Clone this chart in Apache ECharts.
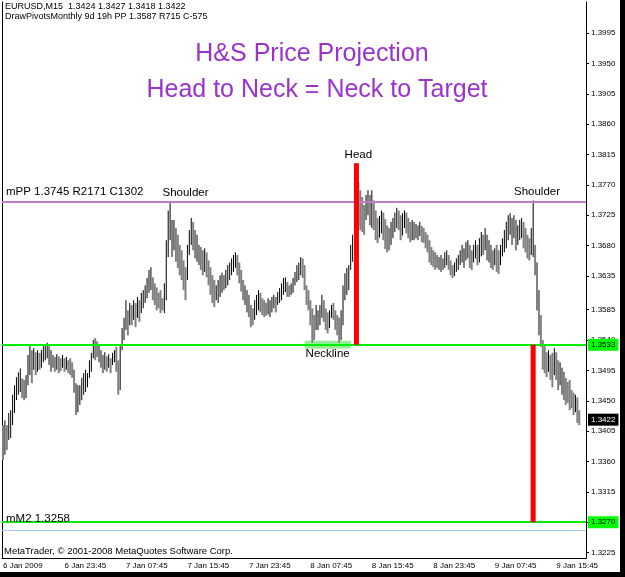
<!DOCTYPE html>
<html><head><meta charset="utf-8">
<script src="https://cdn.jsdelivr.net/npm/echarts@6/dist/echarts.min.js"></script>
<style>html,body{margin:0;padding:0;background:#fff}#c{width:625px;height:577px}</style>
</head><body><div id="c"></div>
<script>
// ---- data (EURUSD M15 bars, high / low) ----
const highs = [
1.3414,1.3421,1.3414,1.3432,1.3436,1.3459,1.3473,1.3485,1.3492,1.3498,
1.3483,1.3481,1.3488,1.3518,1.3533,1.3525,1.3528,1.3522,1.3525,1.3521,
1.3525,1.3531,1.3533,1.3536,1.3531,1.3525,1.3518,1.3515,1.3519,1.3516,
1.3513,1.3518,1.3513,1.3515,1.3510,1.3513,1.3507,1.3496,1.3476,1.3473,
1.3473,1.3484,1.3491,1.3496,1.3491,1.3510,1.3521,1.3540,1.3543,1.3538,
1.3533,1.3525,1.3518,1.3522,1.3516,1.3519,1.3513,1.3521,1.3525,1.3530,
1.3510,1.3533,1.3558,1.3573,1.3599,1.3584,1.3595,1.3592,1.3599,1.3595,
1.3604,1.3599,1.3610,1.3614,1.3621,1.3632,1.3644,1.3648,1.3633,1.3624,
1.3618,1.3610,1.3614,1.3602,1.3624,1.3688,1.3732,1.3744,1.3718,1.3718,
1.3706,1.3696,1.3681,1.3673,1.3658,1.3648,1.3681,1.3703,1.3721,1.3715,
1.3703,1.3696,1.3681,1.3678,1.3673,1.3676,1.3670,1.3658,1.3648,1.3636,
1.3629,1.3621,1.3629,1.3636,1.3640,1.3636,1.3644,1.3651,1.3655,1.3661,
1.3666,1.3670,1.3666,1.3655,1.3644,1.3629,1.3621,1.3614,1.3607,1.3592,
1.3587,1.3599,1.3607,1.3614,1.3610,1.3602,1.3599,1.3595,1.3602,1.3599,
1.3604,1.3607,1.3604,1.3611,1.3617,1.3624,1.3632,1.3633,1.3626,1.3621,
1.3624,1.3632,1.3641,1.3651,1.3655,1.3663,1.3661,1.3651,1.3621,1.3614,
1.3599,1.3587,1.3577,1.3592,1.3584,1.3592,1.3607,1.3599,1.3587,1.3581,
1.3584,1.3592,1.3595,1.3584,1.3577,1.3573,1.3584,1.3621,1.3639,1.3647,
1.3651,1.3681,1.3696,1.3777,1.3802,1.3773,1.3762,1.3752,1.3740,1.3755,
1.3762,1.3755,1.3762,1.3747,1.3732,1.3721,1.3724,1.3732,1.3729,1.3719,
1.3710,1.3706,1.3715,1.3721,1.3729,1.3736,1.3732,1.3725,1.3728,1.3732,
1.3729,1.3721,1.3715,1.3718,1.3715,1.3712,1.3710,1.3715,1.3709,1.3706,
1.3700,1.3696,1.3688,1.3678,1.3673,1.3670,1.3666,1.3663,1.3666,1.3661,
1.3670,1.3673,1.3666,1.3658,1.3651,1.3655,1.3661,1.3666,1.3673,1.3681,
1.3676,1.3685,1.3688,1.3681,1.3673,1.3681,1.3688,1.3681,1.3691,1.3700,
1.3696,1.3706,1.3696,1.3688,1.3681,1.3673,1.3676,1.3681,1.3673,1.3681,
1.3691,1.3703,1.3715,1.3725,1.3728,1.3721,1.3725,1.3718,1.3710,1.3718,
1.3721,1.3715,1.3706,1.3696,1.3691,1.3706,1.3747,1.3681,1.3655,1.3614,
1.3577,1.3540,1.3533,1.3522,1.3525,1.3518,1.3521,1.3528,1.3522,1.3510,
1.3507,1.3499,1.3493,1.3484,1.3478,1.3481,1.3466,1.3462,1.3459,1.3455,
1.3436];
const lows = [
1.3362,1.3370,1.3377,1.3392,1.3395,1.3414,1.3432,1.3451,1.3459,1.3463,
1.3454,1.3451,1.3454,1.3473,1.3488,1.3476,1.3496,1.3488,1.3493,1.3496,
1.3499,1.3507,1.3510,1.3513,1.3503,1.3493,1.3499,1.3493,1.3496,1.3491,
1.3494,1.3499,1.3493,1.3496,1.3491,1.3488,1.3484,1.3462,1.3429,1.3433,
1.3444,1.3451,1.3459,1.3463,1.3470,1.3484,1.3493,1.3513,1.3510,1.3515,
1.3507,1.3499,1.3491,1.3496,1.3493,1.3499,1.3491,1.3503,1.3507,1.3493,
1.3459,1.3466,1.3525,1.3540,1.3555,1.3547,1.3562,1.3562,1.3570,1.3559,
1.3573,1.3567,1.3580,1.3587,1.3595,1.3602,1.3610,1.3614,1.3599,1.3592,
1.3584,1.3587,1.3580,1.3584,1.3580,1.3599,1.3663,1.3688,1.3663,1.3673,
1.3656,1.3647,1.3636,1.3629,1.3614,1.3599,1.3629,1.3666,1.3681,1.3673,
1.3661,1.3656,1.3651,1.3644,1.3636,1.3641,1.3633,1.3621,1.3607,1.3595,
1.3589,1.3599,1.3595,1.3604,1.3610,1.3614,1.3617,1.3621,1.3629,1.3636,
1.3641,1.3647,1.3636,1.3624,1.3612,1.3599,1.3592,1.3581,1.3574,1.3559,
1.3562,1.3570,1.3577,1.3584,1.3581,1.3577,1.3574,1.3576,1.3578,1.3574,
1.3581,1.3587,1.3581,1.3592,1.3595,1.3599,1.3607,1.3611,1.3604,1.3604,
1.3607,1.3610,1.3621,1.3626,1.3629,1.3636,1.3632,1.3614,1.3592,1.3584,
1.3562,1.3536,1.3540,1.3555,1.3555,1.3562,1.3573,1.3567,1.3555,1.3550,
1.3558,1.3573,1.3570,1.3555,1.3547,1.3536,1.3540,1.3562,1.3599,1.3607,
1.3614,1.3644,1.3656,1.3700,1.3725,1.3710,1.3703,1.3700,1.3696,1.3718,
1.3725,1.3710,1.3706,1.3703,1.3688,1.3684,1.3692,1.3698,1.3688,1.3675,
1.3670,1.3673,1.3681,1.3691,1.3700,1.3706,1.3703,1.3688,1.3695,1.3706,
1.3698,1.3691,1.3685,1.3688,1.3688,1.3691,1.3688,1.3694,1.3685,1.3684,
1.3676,1.3670,1.3655,1.3651,1.3648,1.3644,1.3647,1.3644,1.3641,1.3644,
1.3647,1.3651,1.3644,1.3636,1.3632,1.3635,1.3641,1.3644,1.3651,1.3655,
1.3647,1.3658,1.3661,1.3647,1.3644,1.3655,1.3661,1.3651,1.3655,1.3664,
1.3666,1.3673,1.3658,1.3655,1.3647,1.3644,1.3651,1.3641,1.3638,1.3651,
1.3664,1.3670,1.3676,1.3688,1.3696,1.3681,1.3691,1.3673,1.3681,1.3688,
1.3691,1.3676,1.3670,1.3661,1.3658,1.3666,1.3663,1.3636,1.3584,1.3547,
1.3530,1.3496,1.3491,1.3485,1.3493,1.3481,1.3470,1.3488,1.3481,1.3466,
1.3473,1.3459,1.3451,1.3444,1.3447,1.3436,1.3439,1.3429,1.3433,1.3417,
1.3414];
const xTickLabels = ['6 Jan 2009','6 Jan 23:45','7 Jan 07:45','7 Jan 15:45','7 Jan 23:45',
  '8 Jan 07:45','8 Jan 15:45','8 Jan 23:45','9 Jan 07:45','9 Jan 15:45'];
const yTicks = [1.3225,1.3270,1.3315,1.3360,1.3405,1.3450,1.3495,1.3540,1.3585,
  1.3635,1.3680,1.3725,1.3770,1.3815,1.3860,1.3905,1.3950,1.3995];
const necklinePrice = 1.3533;
const targetPrice = 1.3270;
const mPP = 1.3745;
const mM2 = 1.3258;
const bidPrice = 1.3422;
const headIdx = 184, headPrice = 1.3802;
const rightShoulderIdx = 276;
const necklineZone = [157, 181, 1.3539, 1.3527];
const notes = [
  {text:'Shoulder', idx:95, price:1.3758, align:'center'},
  {text:'Head', idx:185, price:1.3814, align:'center'},
  {text:'Shoulder', idx:278, price:1.3759, align:'center'},
  {text:'Neckline', idx:169, price:1.3519, align:'center'}
];
// ---- chart ----
const N = 304;
const TICK = 32;
const cats = Array.from({length:N}, (_, i) => (i % TICK === 0 && xTickLabels[i / TICK]) ? xTickLabels[i / TICK] : '');
const barData = highs.map((h, i) => {
  const mid = (h + lows[i]) / 2;
  const pm = i ? (highs[i-1] + lows[i-1]) / 2 : mid;
  return [i, lows[i], h, mid > pm ? 1 : 0];
});
const F = '"Liberation Sans", Arial, sans-serif';
const YMIN = 1.3217, YMAX = 1.4041;
const chart = echarts.init(document.getElementById('c'));
const fmt = p => Number(p.value).toFixed(4);
const boxLabel = (bg, fg) => ({show: true, position: 'end', distance: 2, formatter: fmt,
  backgroundColor: bg, color: fg, fontSize: 8, fontFamily: F, padding: [2, 3]});
chart.setOption({
  animation: false,
  backgroundColor: '#fff',
  grid: {left: 2, right: 39, top: 2, bottom: 19},
  xAxis: {
    type: 'category', data: cats, boundaryGap: true,
    axisLine: {lineStyle: {color: '#000', width: 1}},
    axisTick: {interval: (i) => i % TICK === 0, alignWithLabel: true, length: 3, lineStyle: {color: '#000'}},
    axisLabel: {interval: (i) => i % TICK === 0, align: 'left', margin: 4, fontSize: 8, color: '#000', fontFamily: F},
    splitLine: {show: false}
  },
  yAxis: [{
    type: 'value', position: 'right', min: YMIN, max: YMAX,
    axisLine: {show: true, lineStyle: {color: '#000'}},
    axisTick: {show: true, customValues: yTicks, length: 3, lineStyle: {color: '#000'}},
    axisLabel: {customValues: yTicks, formatter: v => v.toFixed(4), fontSize: 8, margin: 5, color: '#000', fontFamily: F},
    splitLine: {show: false}
  }, {
    type: 'value', position: 'left', min: YMIN, max: YMAX,
    axisLine: {show: true, lineStyle: {color: '#000'}},
    axisTick: {show: false}, axisLabel: {show: false}, splitLine: {show: false}
  }],
  series: [{
    type: 'custom', name: 'bars', z: 3,
    data: barData,
    encode: {x: 0, y: [1, 2]},
    renderItem: (params, api) => {
      const i = api.value(0);
      const lo = api.coord([i, api.value(1)]);
      const hi = api.coord([i, api.value(2)]);
      const up = api.value(3) === 1;
      return {type: 'line', shape: {x1: lo[0], y1: lo[1], x2: hi[0], y2: hi[1]},
        style: {stroke: up ? '#000000' : '#808080', lineWidth: up ? 1 : 2}};
    },
    markArea: {silent: true, itemStyle: {color: '#98ec98'}, data: [[
      {xAxis: necklineZone[0], yAxis: necklineZone[2]}, {xAxis: necklineZone[1], yAxis: necklineZone[3]}
    ]]}
  }, {
    type: 'line', name: 'levels', data: [], z: 4,
    markLine: {silent: true, symbol: 'none', precision: 4, animation: false, data: [
      {yAxis: mPP, lineStyle: {color: '#c07cc8', width: 2, type: 'solid'}, label: {show: false}},
      {yAxis: mM2, lineStyle: {color: '#a8c8ee', width: 1, type: 'solid'}, label: {show: false}},
      {yAxis: necklinePrice, lineStyle: {color: '#00ee00', width: 2, type: 'solid'}, label: boxLabel('#00ff00', '#000')},
      {yAxis: targetPrice, lineStyle: {color: '#00ee00', width: 2, type: 'solid'}, label: boxLabel('#00ff00', '#000')},
      {yAxis: bidPrice, lineStyle: {color: 'rgba(0,0,0,0)', width: 1, type: 'solid'}, label: boxLabel('#000', '#fff')}
    ]}
  }, {
    type: 'line', name: 'head', z: 6, symbol: 'none', silent: true,
    lineStyle: {color: '#ff0000', width: 5, cap: 'butt'},
    data: [[headIdx, headPrice], [headIdx, necklinePrice]]
  }, {
    type: 'line', name: 'target', z: 6, symbol: 'none', silent: true,
    lineStyle: {color: '#ff0000', width: 5, cap: 'butt'},
    data: [[rightShoulderIdx, necklinePrice], [rightShoulderIdx, targetPrice]]
  }]
});
const px = (i, p) => chart.convertToPixel({xAxisIndex: 0, yAxisIndex: 0}, [i, p]);
const g = [];
notes.forEach(n => {
  const pt = px(n.idx, n.price);
  g.push({type: 'text', z: 10, style: {text: n.text, x: pt[0], y: pt[1], align: n.align, verticalAlign: 'middle', fill: '#000', fontSize: 11.5, fontFamily: F}});
});
const mppY = px(0, mPP)[1];
g.push({type: 'text', z: 10, style: {text: 'mPP 1.3745 R2171 C1302', x: 6, y: mppY - 10, verticalAlign: 'middle', fill: '#000', fontSize: 11.5, fontFamily: F}});
const mm2Y = px(0, mM2)[1];
g.push({type: 'text', z: 10, style: {text: 'mM2 1.3258', x: 6, y: mm2Y - 12, verticalAlign: 'middle', fill: '#000', fontSize: 11.5, fontFamily: F}});
g.push({type: 'text', z: 10, style: {text: 'EURUSD,M15  1.3424 1.3427 1.3418 1.3422', x: 5, y: 6.5, verticalAlign: 'middle', fill: '#000', fontSize: 9, fontFamily: F}});
g.push({type: 'text', z: 10, style: {text: 'DrawPivotsMonthly 9d 19h PP 1.3587 R715 C-575', x: 5, y: 17, verticalAlign: 'middle', fill: '#000', fontSize: 9, fontFamily: F}});
g.push({type: 'text', z: 10, style: {text: 'H&S Price Projection', x: 312, y: 54, align: 'center', verticalAlign: 'middle', fill: '#9933cc', fontSize: 25, fontFamily: F}});
g.push({type: 'text', z: 10, style: {text: 'Head to Neck = Neck to Target', x: 317, y: 90, align: 'center', verticalAlign: 'middle', fill: '#9933cc', fontSize: 25, fontFamily: F}});
g.push({type: 'text', z: 10, style: {text: 'MetaTrader, \u00A9 2001-2008 MetaQuotes Software Corp.', x: 4, y: 551, verticalAlign: 'middle', fill: '#000', fontSize: 9.5, fontFamily: F}});
g.push({type: 'rect', z: 20, shape: {x: 620, y: 0, width: 5, height: 577}, style: {fill: '#000'}});
g.push({type: 'rect', z: 20, shape: {x: 0, y: 572, width: 625, height: 5}, style: {fill: '#000'}});
chart.setOption({graphic: g});
</script></body></html>
